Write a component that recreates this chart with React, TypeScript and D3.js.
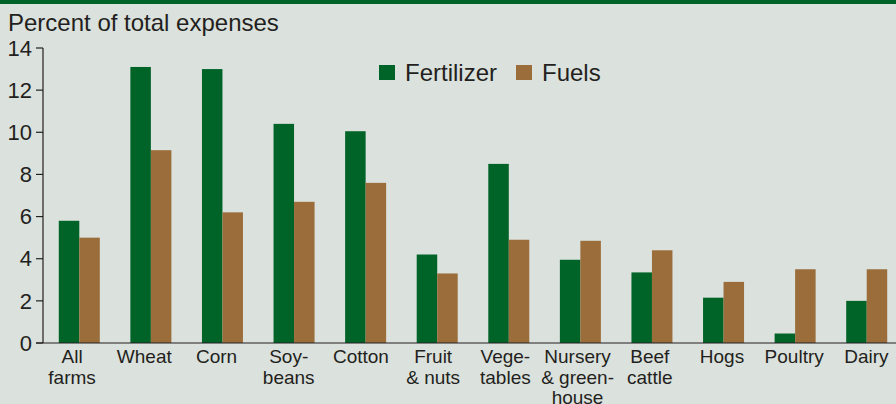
import React from 'react';
import * as d3 from 'd3';

const categories = ['All farms', 'Wheat', 'Corn', 'Soy-beans', 'Cotton', 'Fruit & nuts', 'Vege-tables', 'Nursery & green-house', 'Beef cattle', 'Hogs', 'Poultry', 'Dairy'];
// label lines as printed under each group
const labelLines = [['All', 'farms'], ['Wheat'], ['Corn'], ['Soy-', 'beans'], ['Cotton'], ['Fruit', '& nuts'], ['Vege-', 'tables'], ['Nursery', '& green-', 'house'], ['Beef', 'cattle'], ['Hogs'], ['Poultry'], ['Dairy']];
const fertilizer = [5.8, 13.1, 13.0, 10.4, 10.05, 4.2, 8.5, 3.95, 3.35, 2.15, 0.45, 2.0];
const fuels = [5.0, 9.15, 6.2, 6.7, 7.6, 3.3, 4.9, 4.85, 4.4, 2.9, 3.5, 3.5];
const seriesNames = ['Fertilizer', 'Fuels'];
const yTicks = [0, 2, 4, 6, 8, 10, 12, 14];

const width = 896;
const height = 404;
const green = '#006428';
const brown = '#9b6d3a';
const bg = '#dbe1dc';
const ink = '#231f20';
const font = '"Liberation Sans", Arial, sans-serif';

const App = () => {
  const y = d3.scaleLinear().domain([0, 14]).range([343, 48]);
  const x = d3.scaleBand().domain(categories).range([43.5, 902.5]);
  const xLabel = d3.scaleBand().domain(categories).range([36, 902.5]);
  const inner = d3.scaleBand().domain(seriesNames).range([0, 41]);
  const colors = [green, brown];
  const series = [fertilizer, fuels];

  return (
    <svg width={width} height={height} style={{ position: 'absolute', left: 0, top: 0, display: 'block' }} fontFamily={font}>
      <rect x={0} y={0} width={width} height={height} fill={bg} />
      <rect x={0} y={0} width={width} height={4} fill={green} />
      <text x={8} y={31} fontSize={24} fill={ink}>Percent of total expenses</text>

      {/* bars */}
      {categories.map((c, i) => {
        const gx = x(c)! + x.bandwidth() / 2 - 20.5;
        return (
          <g key={c}>
            {series.map((s, j) => (
              <rect
                key={j}
                x={gx + inner(seriesNames[j])!}
                y={y(s[i])}
                width={inner.bandwidth()}
                height={y(0) - y(s[i])}
                fill={colors[j]}
              />
            ))}
          </g>
        );
      })}

      {/* y axis */}
      <line x1={43} x2={43} y1={y(14)} y2={y(0)} stroke={ink} strokeWidth={1.2} />
      {yTicks.map(t => (
        <g key={t}>
          <line x1={36} x2={43} y1={y(t)} y2={y(t)} stroke={ink} strokeWidth={1.2} />
          <text x={32} y={y(t)} dy="0.35em" textAnchor="end" fontSize={22} fill={ink}>{t}</text>
        </g>
      ))}
      <line x1={36} x2={width} y1={y(0)} y2={y(0)} stroke={ink} strokeWidth={1.2} />

      {/* category labels */}
      {categories.map((c, i) => (
        <text key={c} x={xLabel(c)! + xLabel.bandwidth() / 2} y={363} textAnchor="middle" fontSize={19} fill={ink}>
          {labelLines[i].map((l, k) => (
            <tspan key={k} x={xLabel(c)! + xLabel.bandwidth() / 2} dy={k === 0 ? 0 : 20.5}>{l}</tspan>
          ))}
        </text>
      ))}

      {/* legend */}
      {seriesNames.map((n, j) => {
        const lx = j === 0 ? 379 : 516;
        return (
          <g key={n}>
            <rect x={lx} y={65} width={16} height={15} fill={colors[j]} />
            <text x={lx + 26} y={81} fontSize={24} fill={ink}>{n}</text>
          </g>
        );
      })}
    </svg>
  );
};

export default App;
